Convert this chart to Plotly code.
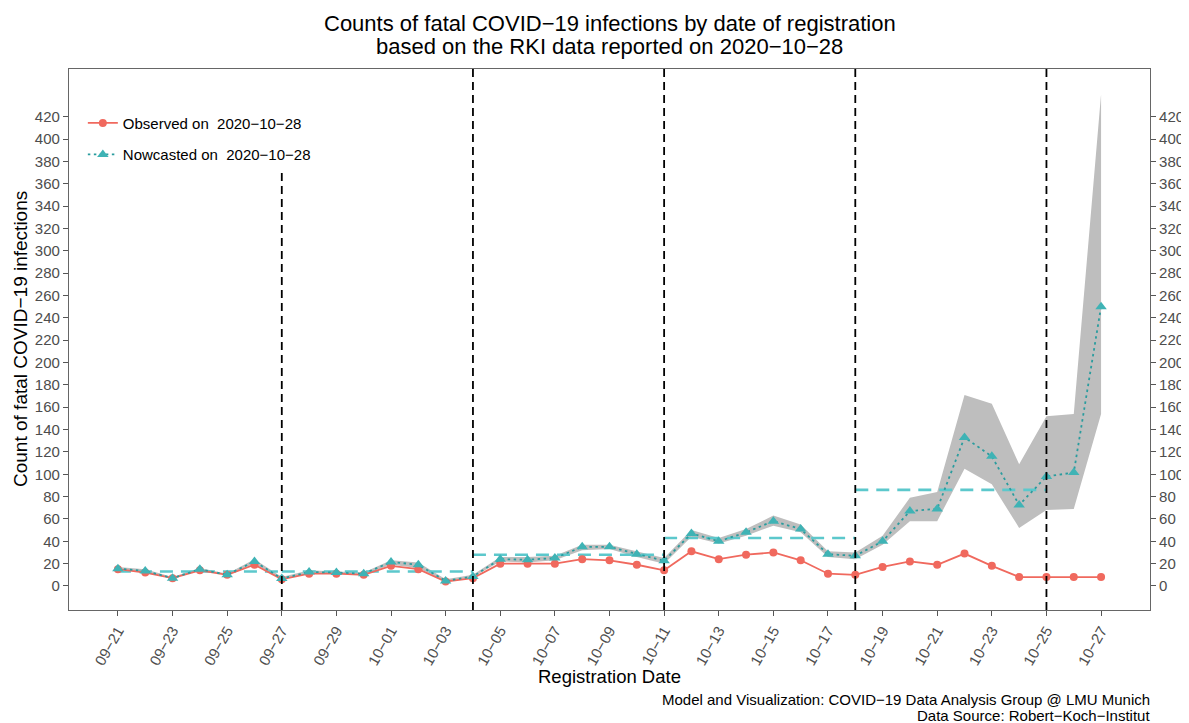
import plotly.graph_objects as go
import pandas as pd

MINUS = "\u2212"

# ---- data ----
dates = pd.date_range("2020-09-21", "2020-10-27", freq="D").strftime("%Y-%m-%d").tolist()

observed = [15, 12, 7, 14, 10, 19, 6, 11, 11, 10,
            18, 15, 4, 7, 20, 20, 20, 24, 23, 19,
            14, 31, 24, 28, 30, 23, 11, 10, 17, 22,
            19, 29, 18, 8, 8, 8, 8]

nowcast = [15.5, 13.4, 7, 15, 10, 22, 6.6, 12.5, 12, 11,
           21.5, 19, 4.5, 8.5, 24, 23.5, 25, 35, 35, 28.5,
           22.5, 47, 40, 48, 58, 51, 28.5, 27, 40, 67,
           69, 133, 116, 72.5, 98, 101.5, 250]

nowcast_lower = [15, 12, 7, 14, 10, 20, 6, 11, 11, 10,
                 19, 16, 4, 8, 22, 21, 23, 32, 33, 26,
                 20, 44, 38, 45, 54, 48, 26, 24, 37, 58,
                 58, 105, 91, 52, 68, 69, 154]

nowcast_upper = [17, 15, 8, 16, 11, 24, 8, 14, 13, 12,
                 23, 21, 6, 10, 26, 26, 27, 37, 37, 31,
                 25, 50, 43, 51, 63, 55, 31, 30, 45, 79,
                 84, 171, 163, 109, 152, 154, 440]

week_start = ["2020-09-21", "2020-09-27", "2020-10-04", "2020-10-11", "2020-10-18"]
week_end = ["2020-09-27", "2020-10-04", "2020-10-11", "2020-10-18", "2020-10-25"]
week_mean = [13, 13, 28, 43, 86]

sundays = ["2020-09-27", "2020-10-04", "2020-10-11", "2020-10-18", "2020-10-25"]

tick_dates = dates[::2]
tick_labels = [d[5:].replace("-", MINUS) for d in tick_dates]
y_ticks = list(range(0, 421, 20))

report_date = "2020" + MINUS + "10" + MINUS + "28"

# ---- styles ----
RED = "#F0695E"
TEAL = "#3FB3B5"
TEAL_DARK = "#2A9C9E"
SEG = "#5CC8CC"
GRAY_BAND = "#BEBEBE"
FONT = "Liberation Sans, Arial, sans-serif"
TICKCOL = "#4D4D4D"

fig = go.Figure()

# uncertainty band
fig.add_trace(go.Scatter(x=dates, y=nowcast_lower, mode="lines", line=dict(width=0),
                         showlegend=False, hoverinfo="skip"))
fig.add_trace(go.Scatter(x=dates, y=nowcast_upper, mode="lines", line=dict(width=0),
                         fill="tonexty", fillcolor=GRAY_BAND, showlegend=False, hoverinfo="skip"))

# weekly mean segments
seg_x, seg_y = [], []
for s, e, v in zip(week_start, week_end, week_mean):
    seg_x += [s, e, None]
    seg_y += [v, v, None]
fig.add_trace(go.Scatter(x=seg_x, y=seg_y, mode="lines",
                         line=dict(color=SEG, width=2.6, dash="13px,8px"),
                         showlegend=False, hoverinfo="skip"))

# observed
fig.add_trace(go.Scatter(x=dates, y=observed, mode="lines+markers",
                         name="Observed on\u00a0 " + report_date,
                         line=dict(color=RED, width=1.8),
                         marker=dict(color=RED, size=8, symbol="circle"),
                         legendgroup="obs"))

# nowcast
fig.add_trace(go.Scatter(x=dates, y=nowcast, mode="lines+markers",
                         name="Nowcasted on\u00a0 " + report_date,
                         line=dict(color=TEAL_DARK, width=1.8, dash="2.5px,3.5px"),
                         marker=dict(color=TEAL, size=10, symbol="triangle-up"),
                         legendgroup="now"))

# invisible trace for right axis
fig.add_trace(go.Scatter(x=dates, y=observed, yaxis="y2", mode="markers",
                         marker=dict(opacity=0), showlegend=False, hoverinfo="skip"))

# vertical weekly lines
for d in sundays:
    fig.add_shape(type="line", x0=d, x1=d, xref="x", y0=0, y1=1, yref="paper",
                  line=dict(color="black", width=1.8, dash="8px,5px"), layer="above")

xrange = ["2020-09-19 05:00", "2020-10-28 19:00"]
yrange = [-21.5, 462.7]

axis_common = dict(showgrid=False, zeroline=False, showline=True, linecolor="#666666",
                   linewidth=1.2, ticks="outside", ticklen=5, tickcolor="#555555",
                   automargin=False,
                   tickfont=dict(family=FONT, size=15, color=TICKCOL))

# the page body adds an 8px offset; size the figure so the plot lands where the reference has it
fig.update_layout(
    width=1181, height=715,
    paper_bgcolor="white", plot_bgcolor="white",
    margin=dict(l=61, r=39, t=61, b=113, autoexpand=False),
    font=dict(family=FONT, color="black"),
    xaxis=dict(type="date", range=xrange, tickvals=tick_dates, ticktext=tick_labels,
               tickangle=-60, mirror=True, **axis_common),
    yaxis=dict(range=yrange, tickvals=y_ticks, mirror=True, **axis_common),
    yaxis2=dict(range=yrange, tickvals=y_ticks, overlaying="y", side="right",
                **axis_common),
    legend=dict(x=0.0128, y=1, xanchor="left", yanchor="top", bgcolor="white",
                borderwidth=0, font=dict(family=FONT, size=15, color="black"),
                traceorder="grouped", tracegroupgap=9,
                title=dict(text=" ", font=dict(size=29)), itemwidth=30),
    showlegend=True,
)

def py(p):
    # page pixel row -> paper y (plot area spans page rows 69..610)
    return (610 - p) / 541.0

annotations = [
    dict(text="Counts of fatal COVID" + MINUS + "19 infections by date of registration",
         x=0.5, y=py(23), xref="paper", yref="paper", xanchor="center", yanchor="middle",
         showarrow=False, font=dict(family=FONT, size=22, color="black")),
    dict(text="based on the RKI data reported on " + report_date,
         x=0.5, y=py(47), xref="paper", yref="paper", xanchor="center", yanchor="middle",
         showarrow=False, font=dict(family=FONT, size=22, color="black")),
    dict(text="Registration Date", x=0.5, y=py(676), xref="paper", yref="paper",
         xanchor="center", yanchor="middle", showarrow=False,
         font=dict(family=FONT, size=18.5, color="black")),
    dict(text="Count of fatal COVID" + MINUS + "19 infections", x=(20 - 69) / 1081.0, y=py(339),
         xref="paper", yref="paper", xanchor="center", yanchor="middle", textangle=-90,
         showarrow=False, font=dict(family=FONT, size=19, color="black")),
    dict(text="Model and Visualization: COVID" + MINUS + "19 Data Analysis Group @ LMU Munich",
         x=1.002, y=py(700), xref="paper", yref="paper", xanchor="right", yanchor="middle",
         showarrow=False, font=dict(family=FONT, size=15, color="black")),
    dict(text="Data Source: Robert" + MINUS + "Koch" + MINUS + "Institut",
         x=1.002, y=py(715), xref="paper", yref="paper", xanchor="right", yanchor="middle",
         showarrow=False, font=dict(family=FONT, size=15, color="black")),
]
fig.update_layout(annotations=annotations)

fig.write_html("out.html")
